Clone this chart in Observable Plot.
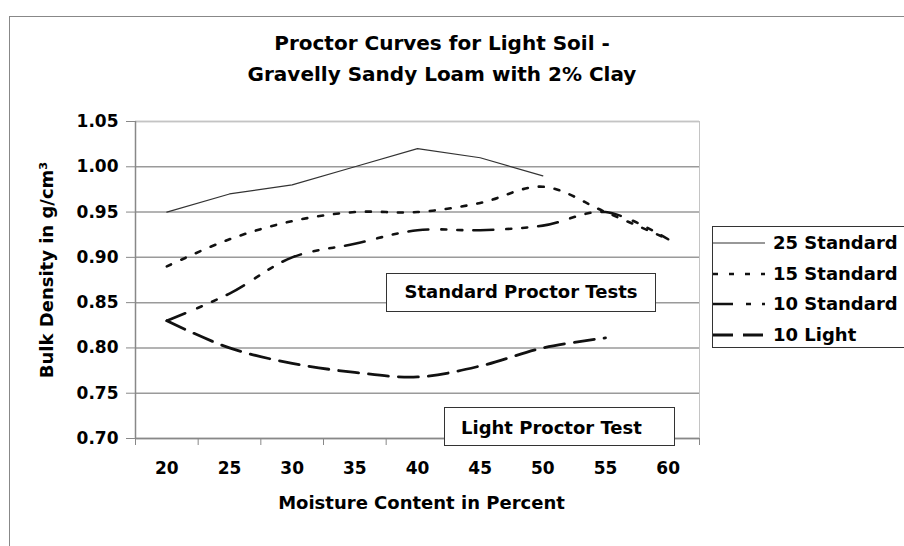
<!DOCTYPE html>
<html>
<head>
<meta charset="utf-8">
<script src="https://cdn.jsdelivr.net/npm/d3@7"></script>
<script src="https://cdn.jsdelivr.net/npm/@observablehq/plot@0.6"></script>
<style>
  html, body { margin: 0; padding: 0; background: #fff; }
  #wrap { position: relative; width: 904px; height: 546px; overflow: hidden; font-family: "DejaVu Sans", sans-serif; font-weight: bold; color: #000; }
  #wrap svg { position: absolute; left: 0; top: 0; }
  .ov { position: absolute; box-sizing: border-box; }
  #border { left: 9px; top: 16px; width: 920px; height: 560px; border-top: 1.5px solid #888; border-left: 1.5px solid #888; }
  #title { left: 0; width: 884px; top: 28px; text-align: center; font-size: 20px; line-height: 31px; }
  .box { background: #fff; border: 1.5px solid #333; font-size: 18px; white-space: nowrap; }
  #stdbox { left: 386px; top: 273px; width: 270px; height: 39px; text-align: center; line-height: 36px; }
  #lightbox { left: 444px; top: 407px; width: 231px; height: 39px; padding-left: 16px; line-height: 40px; }
  #legend { left: 712px; top: 226px; width: 220px; height: 122px; }
  .row { position: absolute; left: 0; height: 30px; width: 220px; font-size: 18px; line-height: 30px; }
  .row svg { position: absolute; left: 5px; top: 0; }
  .row span { position: absolute; left: 60px; top: 0; }
</style>
</head>
<body>
<div id="wrap"></div>
<script>
// ---- data ----
const categories = [20, 25, 30, 35, 40, 45, 50, 55, 60];
const yTicks = [0.70, 0.75, 0.80, 0.85, 0.90, 0.95, 1.00, 1.05];
const standard25 = [0.95, 0.97, 0.98, 1.00, 1.02, 1.01, 0.99];
const standard15 = [0.89, 0.92, 0.94, 0.95, 0.95, 0.96, 0.978, 0.95, 0.92];
const standard10 = [0.83, 0.86, 0.90, 0.915, 0.93, 0.93, 0.935, 0.95, 0.92];
const light10 = [0.83, 0.80, 0.783, 0.773, 0.768, 0.78, 0.80, 0.811];
const seriesNames = ["25 Standard", "15 Standard", "10 Standard", "10 Light"];
const titleLines = ["Proctor Curves for Light Soil -", "Gravelly Sandy Loam with 2% Clay"];
const xLabel = "Moisture Content in Percent";
const yLabel = "Bulk Density in g/cm³";
const annotations = ["Standard Proctor Tests", "Light Proctor Test"];

// ---- styles ----
const styles = [
  {stroke: "#333", strokeWidth: 1.2, dash: null, curve: "linear"},
  {stroke: "#111", strokeWidth: 2.6, dash: "5,11", curve: "catmull-rom"},
  {stroke: "#111", strokeWidth: 2.6, dash: "20,13,5,11,5,11", curve: "catmull-rom"},
  {stroke: "#111", strokeWidth: 2.8, dash: "20,10", curve: "catmull-rom"}
];

const rows = (vals) => vals.map((v, i) => ({x: categories[i], y: v}));
const seriesData = [standard25, standard15, standard10, light10].map(rows);

const step = categories[1] - categories[0];
const xDomain = [categories[0] - step / 2, categories[categories.length - 1] + step / 2];
const boundaries = categories.map(c => c - step / 2).concat([xDomain[1]]);

const lineMarks = seriesData.map((d, i) => Plot.line(d, {
  x: "x", y: "y",
  stroke: styles[i].stroke, strokeWidth: styles[i].strokeWidth,
  strokeDasharray: styles[i].dash || undefined,
  curve: styles[i].curve
}));

const chart = Plot.plot({
  width: 904, height: 546,
  marginLeft: 135, marginRight: 205, marginTop: 121, marginBottom: 108,
  x: {domain: xDomain},
  y: {domain: [0.70, 1.05]},
  style: {fontFamily: "DejaVu Sans", fontWeight: "bold", color: "#000", background: "transparent", overflow: "visible"},
  marks: [
    Plot.gridY(yTicks, {stroke: "#9a9a9a", strokeOpacity: 1, strokeWidth: 1.5}),
    Plot.frame({stroke: "#c4c4c4"}),
    Plot.ruleX([xDomain[0]], {stroke: "#888", strokeWidth: 1.5}),
    Plot.ruleY([yTicks[0]], {stroke: "#888", strokeWidth: 1.5}),
    Plot.axisY({ticks: yTicks, tickFormat: ".2f", tickSize: 9, tickPadding: 8, fontSize: 17, stroke: "#888", fill: "#000", label: null}),
    Plot.axisX({ticks: boundaries, tickSize: 7, tickFormat: () => "", stroke: "#888", label: null}),
    Plot.axisX({ticks: categories, tickSize: 0, tickPadding: 23, fontSize: 17, fill: "#000", label: null}),
    ...lineMarks,
    Plot.text([xLabel], {frameAnchor: "bottom", dy: 70, dx: 4, fontSize: 18, fill: "#000"}),
    Plot.text([yLabel], {frameAnchor: "left", textAnchor: "middle", rotate: -90, dx: -88, dy: -10, fontSize: 18, fill: "#000"})
  ]
});

const wrap = document.getElementById("wrap");
wrap.appendChild(chart);

function div(id, cls, html) {
  const el = document.createElement("div");
  if (id) el.id = id;
  el.className = cls;
  el.innerHTML = html;
  wrap.appendChild(el);
  return el;
}
div("border", "ov", "");
div("title", "ov", titleLines.join("<br>"));
div("stdbox", "ov box", annotations[0]);
div("lightbox", "ov box", annotations[1]);
const legend = div("legend", "ov box", "");
const rowTops = [2, 33, 63, 94];
seriesNames.forEach((name, i) => {
  const r = document.createElement("div");
  r.className = "row";
  r.style.top = (rowTops[i] - 1) + "px";
  const s = styles[i];
  r.innerHTML = `<svg width="52" height="30"><line x1="0" x2="52" y1="15" y2="15" stroke="${s.stroke}" stroke-width="${s.strokeWidth}" ${s.dash ? `stroke-dasharray="${s.dash}"` : ""}/></svg><span>${name}</span>`;
  legend.appendChild(r);
});
</script>
</body>
</html>
